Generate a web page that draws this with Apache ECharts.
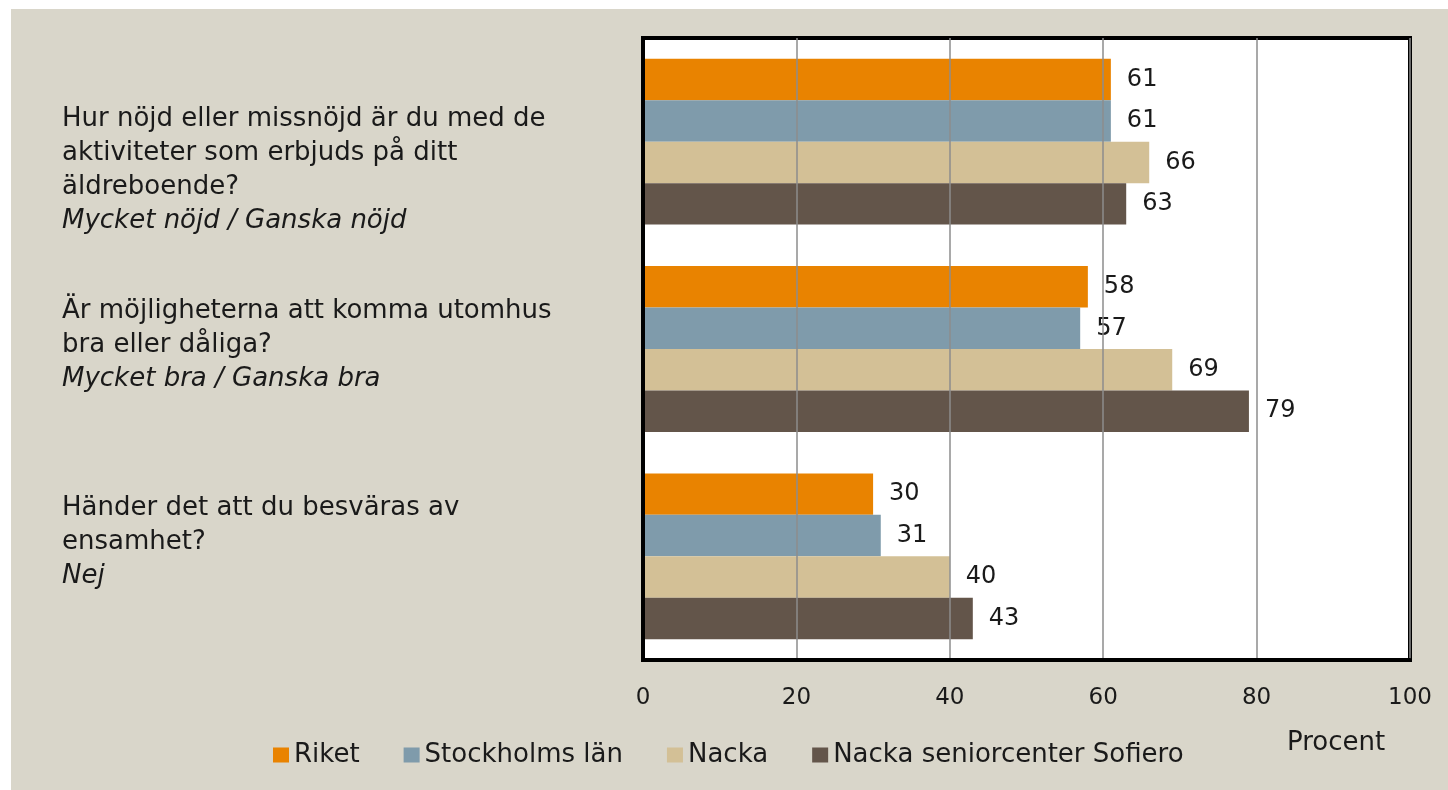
<!DOCTYPE html>
<html>
<head>
<meta charset="utf-8">
<script src="https://cdn.jsdelivr.net/npm/echarts@6/dist/echarts.min.js"></script>
<style>
    html, body {margin: 0; padding: 0; background: #ffffff;}
    #chart {position: absolute; left: 11px; top: 9px; width: 1437px; height: 781px;}
</style>
</head>
<body>
<div id="chart"></div>
<script>
    var questions = [
        'Hur nöjd eller missnöjd är du med de\naktiviteter som erbjuds på ditt\näldreboende?\n{i|Mycket nöjd / Ganska nöjd}',
        'Är möjligheterna att komma utomhus\nbra eller dåliga?\n{i|Mycket bra / Ganska bra}',
        'Händer det att du besväras av\nensamhet?\n{i|Nej}'
    ];
    var seriesNames = ['Riket', 'Stockholms län', 'Nacka', 'Nacka seniorcenter Sofiero'];
    var riket = [61, 58, 30];
    var stockholm = [61, 57, 31];
    var nacka = [66, 69, 40];
    var sofiero = [63, 79, 43];
    var xTicks = [0, 20, 40, 60, 80, 100];

    var colors = ['#E98300', '#7F9BAB', '#D3C096', '#63554A'];
    var font = 'DejaVu Sans';
    var textColor = '#1a1a1a';

    // excel places each label block a bit differently
    var labelPads = [[58, 0, 0, 0], [0, 0, 8, 0], [0, 0, 28, 0]];

    var myChart = echarts.init(document.getElementById('chart'));

    var seriesData = [riket, stockholm, nacka, sofiero];
    var series = seriesData.map(function (d, i) {
        return {
            name: seriesNames[i],
            type: 'bar',
            data: d,
            barGap: '0%',
            barCategoryGap: '20%',
            itemStyle: {color: colors[i]},
            label: {
                show: true,
                position: 'right',
                distance: 16,
                fontFamily: font,
                fontSize: 24,
                color: textColor
            }
        };
    });

    myChart.setOption({
        backgroundColor: '#D9D6CA',
        animation: false,
        grid: {
            left: 632,
            top: 29,
            width: 767,
            height: 622,
            outerBoundsMode: 'none',
            containLabel: false,
            show: true,
            backgroundColor: '#ffffff',
            borderColor: '#000000',
            borderWidth: 4
        },
        legend: {
            data: seriesNames,
            left: 262,
            top: 733,
            padding: 0,
            icon: 'rect',
            itemWidth: 16,
            itemHeight: 15,
            itemGap: 44,
            textStyle: {fontFamily: font, fontSize: 26, color: textColor}
        },
        graphic: [{
            type: 'text',
            left: 1276,
            top: 721,
            style: {text: 'Procent', font: '26px "DejaVu Sans"', fill: textColor}
        }],
        xAxis: {
            type: 'value',
            z: 10,
            min: xTicks[0],
            max: xTicks[xTicks.length - 1],
            interval: xTicks[1] - xTicks[0],
            axisLine: {show: true, lineStyle: {color: '#000000', width: 4}},
            axisTick: {show: false},
            splitLine: {lineStyle: {color: '#8c8c8c', width: 1.5}},
            axisLabel: {fontFamily: font, fontSize: 23, color: textColor, margin: 27}
        },
        yAxis: {
            type: 'category',
            inverse: true,
            z: 10,
            data: questions.map(function (q, i) {
                return {value: q, textStyle: {padding: labelPads[i], align: 'left'}};
            }),
            axisLine: {show: true, lineStyle: {color: '#000000', width: 4}},
            axisTick: {show: false},
            axisLabel: {
                align: 'left',
                margin: 581,
                fontFamily: font,
                fontSize: 26,
                lineHeight: 34,
                color: textColor,
                rich: {
                    i: {fontStyle: 'italic', fontFamily: font, fontSize: 26, lineHeight: 34, color: textColor}
                }
            }
        },
        series: series
    });

    window.onresize = function () {
        myChart.resize();
    };
</script>
</body>
</html>
